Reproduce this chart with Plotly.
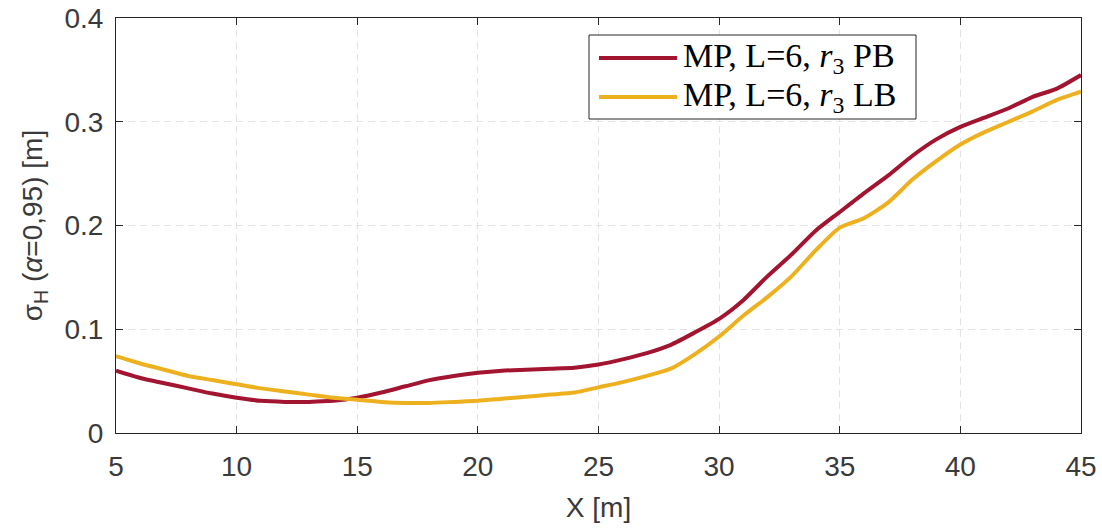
import plotly.graph_objects as go

x_m = list(range(5, 46))
pb = [0.060, 0.053, 0.048, 0.043, 0.038, 0.034, 0.031, 0.030, 0.030, 0.031,
      0.034, 0.039, 0.045, 0.051, 0.055, 0.058, 0.060, 0.061, 0.062, 0.063,
      0.066, 0.071, 0.077, 0.085, 0.097, 0.110, 0.128, 0.151, 0.172, 0.195,
      0.213, 0.231, 0.248, 0.267, 0.283, 0.295, 0.304, 0.313, 0.324, 0.332,
      0.345]
lb = [0.074, 0.067, 0.061, 0.055, 0.051, 0.047, 0.043, 0.040, 0.037, 0.034,
      0.032, 0.030, 0.029, 0.029, 0.030, 0.031, 0.033, 0.035, 0.037, 0.039,
      0.044, 0.049, 0.055, 0.062, 0.076, 0.093, 0.113, 0.131, 0.151, 0.176,
      0.198, 0.207, 0.222, 0.244, 0.262, 0.278, 0.290, 0.300, 0.310, 0.321,
      0.329]

names = ["MP, L=6, <i>r</i><sub>3</sub> PB", "MP, L=6, <i>r</i><sub>3</sub> LB"]
colors = ["#A2142F", "#EDB120"]
x_ticks = [5, 10, 15, 20, 25, 30, 35, 40, 45]
y_ticks = [0, 0.1, 0.2, 0.3, 0.4]
y_ticklabels = ["0", "0.1", "0.2", "0.3", "0.4"]

fig = go.Figure()
for ys, nm, c in zip([pb, lb], names, colors):
    fig.add_trace(go.Scatter(x=x_m, y=ys, mode="lines", name=nm,
                             line=dict(color=c, width=4, shape="spline", smoothing=0.6),
                             showlegend=False))

axcol = "#262626"
txtcol = "#3a3a3a"
sans = "Liberation Sans, Arial"
common = dict(showline=True, linecolor=axcol, linewidth=1, mirror="ticks",
              ticks="inside", ticklen=7, tickcolor=axcol, showgrid=True,
              gridcolor="#e3e3e3", griddash="7px,5px", gridwidth=1, zeroline=False,
              automargin=False,
              tickfont=dict(family=sans, size=28, color=txtcol))
fig.update_xaxes(range=[5, 45], tickvals=x_ticks, ticklabelstandoff=8, **common,
                 title=dict(text="X [m]", font=dict(family=sans, size=28, color=txtcol), standoff=16))
fig.update_yaxes(range=[0, 0.4], tickvals=y_ticks, ticktext=y_ticklabels, ticklabelstandoff=6, **common,
                 title=dict(text="σ<sub>H</sub> (<i>α</i>=0,95) [m]", font=dict(family=sans, size=28, color=txtcol), standoff=13))

# legend box (drawn in paper coordinates)
def px2p(px, py):
    return (px - 116) / 965, (433 - py) / 415

x0, y0 = px2p(589, 119)
x1, y1 = px2p(916, 35)
shapes = [dict(type="rect", xref="paper", yref="paper", x0=x0, y0=y0, x1=x1, y1=y1,
               line=dict(color="#262626", width=1), fillcolor="white", layer="above")]
annos = []
for i, (nm, c) in enumerate(zip(names, colors)):
    ly = [58, 97][i]
    lx0, lyp = px2p(599, ly)
    lx1, _ = px2p(677, ly)
    shapes.append(dict(type="line", xref="paper", yref="paper", x0=lx0, x1=lx1, y0=lyp, y1=lyp,
                       line=dict(color=c, width=4), layer="above"))
    tx, _ = px2p(681, ly)
    annos.append(dict(xref="paper", yref="paper", x=tx, y=lyp, xanchor="left", yanchor="middle",
                      text=nm, showarrow=False,
                      font=dict(family="Liberation Serif, Times New Roman", size=34, color="black")))

fig.update_layout(width=1102, height=529, margin=dict(l=116, r=21, t=18, b=96),
                  plot_bgcolor="white", paper_bgcolor="white",
                  shapes=shapes, annotations=annos)
# remove the default page margin so the figure sits at the window's top-left corner
fig.write_html("out.html", config={"displayModeBar": False},
               post_script="document.body.style.margin='0px';")
